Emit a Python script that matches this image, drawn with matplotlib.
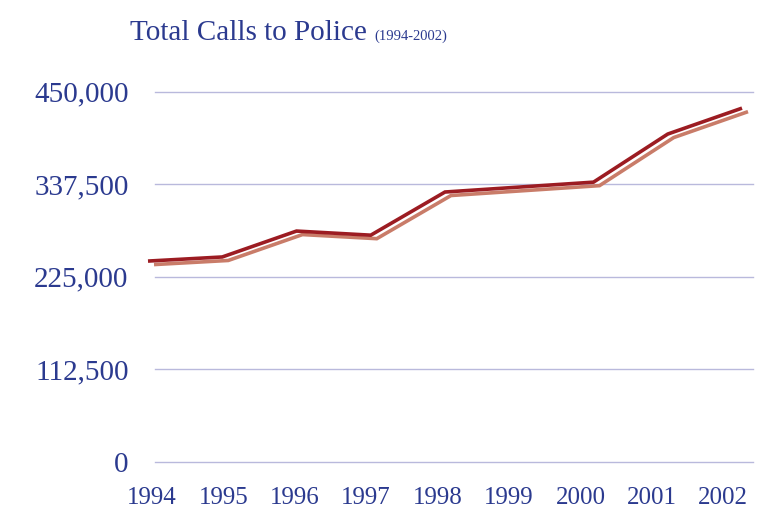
import matplotlib
matplotlib.use("Agg")
import matplotlib.pyplot as plt
import matplotlib.transforms as mtransforms

years = ["1994", "1995", "1996", "1997", "1998", "1999", "2000", "2001", "2002"]
calls = [244000, 249000, 280500, 275500, 328000, 334000, 340000, 398500, 430000]
yticks = [0, 112500, 225000, 337500, 450000]
ytick_labels = ["0", "112,500", "225,000", "337,500", "450,000"]

text_color = "#2b3a8f"
grid_color = "#b9b9dc"
line_color = "#9c1c22"
shadow_color = "#c97c69"

plt.rcParams["font.family"] = ["Liberation Serif", "DejaVu Serif"]

fig = plt.figure(figsize=(7.72, 5.13), dpi=100)
W, H = 772, 513
# axes box in pixel terms
left, right, bottom, top = 148, 753, 461.7, 91.7
ax = fig.add_axes([left / W, 1 - bottom / H, (right - left) / W, (bottom - top) / H])

x = list(range(len(years)))
step = 74.25  # pixels per year for the lines
ax.set_xlim(0, (right - left) / step)
ax.set_ylim(0, 450000)

# grid lines start a little right of the lines
for v in yticks:
    ax.axhline(v, xmin=7 / (right - left), xmax=1, color=grid_color, lw=1.0, zorder=1, clip_on=False)

# shadow line, offset right/down
shadow_tr = mtransforms.offset_copy(ax.transData, fig=fig, x=6, y=-3.5, units="dots")
ax.plot(x, calls, color=shadow_color, lw=2.6, transform=shadow_tr, zorder=2,
        clip_on=False, solid_joinstyle="miter", solid_capstyle="butt")
ax.plot(x, calls, color=line_color, lw=2.6, zorder=3, clip_on=False,
        solid_joinstyle="miter", solid_capstyle="butt")

ax.set_yticks(yticks)
ax.set_yticklabels(ytick_labels, fontsize=21, color=text_color)
# year labels sit on a slightly tighter spacing than the line vertices
label_pos = [(152 + 71.4 * i - left) / step for i in x]
ax.set_xticks(label_pos)
ax.set_xticklabels(years, fontsize=18, color=text_color)
ax.tick_params(axis="y", length=0, pad=14)
ax.tick_params(axis="x", length=0, pad=18)
for s in ax.spines.values():
    s.set_visible(False)

fig.text(367 / W, 1 - 40 / H, "Total Calls to Police", fontsize=21, color=text_color,
         ha="right", va="baseline")
fig.text(374 / W, 1 - 40 / H, "(1994-2002)", fontsize=10.5, color=text_color,
         ha="left", va="baseline")

fig.savefig("out.png", dpi=100, facecolor="white")
